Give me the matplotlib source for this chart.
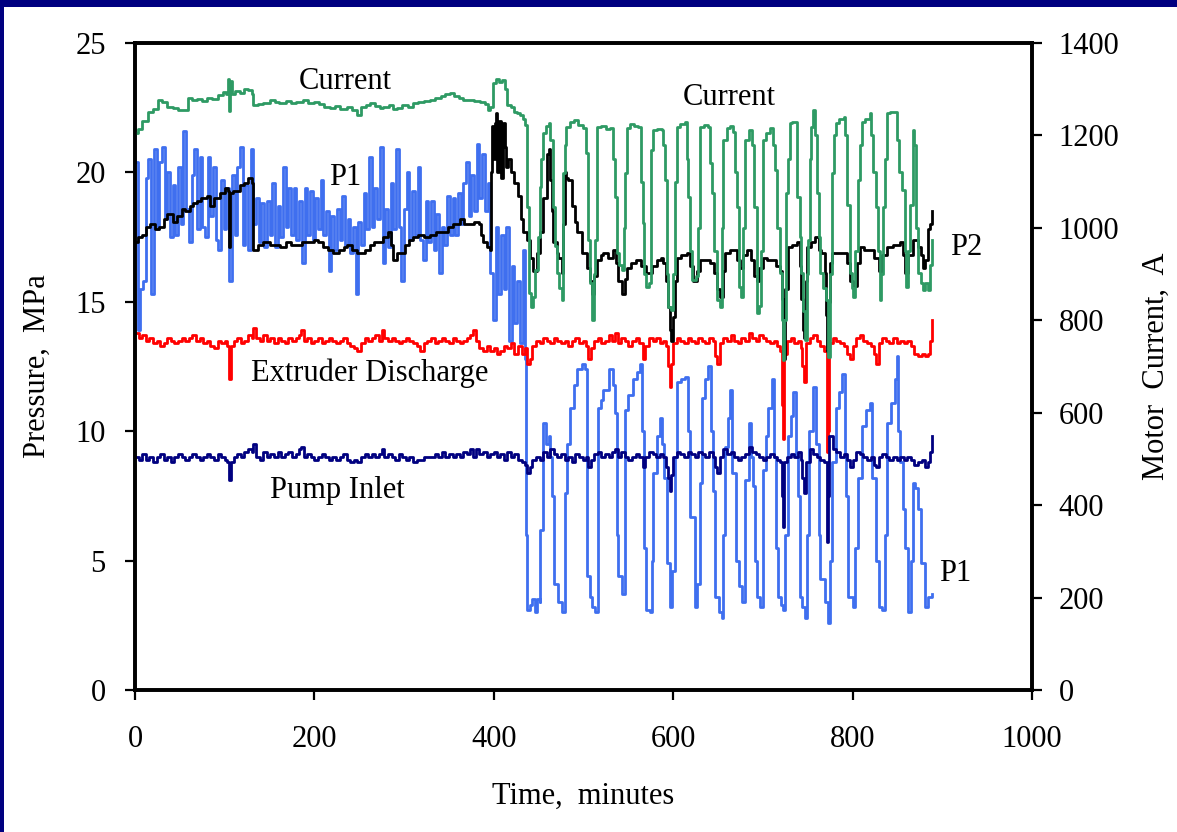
import matplotlib.pyplot as plt
from matplotlib.patches import Rectangle

plt.rcParams['font.family'] = ['Liberation Serif', 'DejaVu Serif']
plt.rcParams['font.size'] = 22

# motor current (A), right axis
cur_t = [0, 3, 8, 14, 20, 26, 30, 36, 42, 48, 54, 59, 64, 69, 75, 80, 86, 92, 98, 102,
         104, 105, 106, 108, 112, 117, 122, 126, 130, 132, 137, 143, 150, 156, 161, 168,
         174, 180, 187, 193, 199, 205, 211, 217, 223, 229, 236, 242, 247, 252, 257, 262,
         268, 273, 277, 283, 288, 292, 298, 304, 310, 316, 322, 329, 335, 341, 346, 351,
         356, 361, 366, 372, 378, 385, 390, 394, 396, 399, 402, 406, 409, 412, 415, 419,
         422, 426, 429, 432, 435, 437, 439, 442, 444, 446, 449, 451, 453, 455, 458, 461,
         463, 466, 468, 470, 473, 476, 477, 479, 481, 485, 489, 494, 500, 503, 505, 507,
         509, 512, 513, 515, 520, 525, 530, 533, 535, 537, 540, 543, 545, 546, 548, 552,
         556, 561, 564, 566, 568, 570, 573, 575, 578, 582, 587, 589, 591, 593, 594, 598,
         600, 602, 604, 608, 613, 615, 617, 619, 621, 625, 628, 630, 634, 639, 641, 643,
         646, 649, 652, 654, 656, 660, 663, 667, 669, 671, 673, 676, 678, 680, 684, 688,
         690, 693, 696, 698, 700, 704, 708, 711, 713, 716, 719, 721, 722, 724, 726, 728,
         730, 733, 736, 738, 741, 743, 745, 747, 749, 750, 752, 754, 756, 758, 760, 762,
         764, 767, 770, 773, 775, 777, 779, 781, 785, 790, 792, 794, 797, 799, 801, 803,
         806, 808, 810, 814, 819, 821, 823, 826, 828, 830, 832, 834, 836, 838, 842, 847,
         849, 852, 855, 858, 860, 862, 864, 867, 869, 871, 873, 876, 878, 881, 884, 886, 888]
cur_v = [1205, 1215, 1232, 1250, 1258, 1277, 1272, 1262, 1259, 1255, 1256, 1281, 1276, 1278,
         1274, 1282, 1279, 1288, 1294, 1290, 1322, 1252, 1318, 1290, 1296, 1292, 1300, 1298,
         1290, 1266, 1268, 1270, 1277, 1272, 1270, 1275, 1271, 1272, 1276, 1270, 1272, 1268,
         1262, 1259, 1264, 1258, 1262, 1255, 1244, 1262, 1266, 1270, 1264, 1260, 1262, 1265,
         1258, 1259, 1266, 1262, 1270, 1272, 1275, 1277, 1280, 1285, 1290, 1292, 1286, 1280,
         1277, 1276, 1274, 1272, 1268, 1255, 1262, 1314, 1322, 1316, 1320, 1300, 1266, 1262,
         1251, 1248, 1244, 1235, 1222, 1045, 859, 829, 850, 909, 980, 1088, 1150, 1205, 1220,
         1227, 1190, 1045, 960, 902, 870, 844, 1119, 1180, 1218, 1228, 1233, 1222, 1216, 1162,
         974, 880, 801, 900, 974, 1218, 1220, 1214, 1216, 1150, 1067, 946, 920, 909, 1000,
         1119, 1216, 1225, 1220, 1218, 1100, 1010, 900, 872, 880, 1169, 1212, 1214, 1212,
         1180, 1104, 900, 829, 822, 900, 1100, 1218, 1225, 1229, 1150, 1067, 950, 887, 895,
         1000, 1218, 1222, 1218, 1140, 1075, 950, 844, 829, 1000, 1190, 1216, 1220, 1208,
         1120, 1045, 872, 851, 1000, 1190, 1212, 1180, 1045, 815, 830, 950, 1190, 1205, 1216,
         1180, 1125, 1000, 902, 800, 714, 800, 1075, 1150, 1227, 1230, 1229, 1067, 980, 902,
         820, 757, 900, 974, 1150, 1218, 1255, 1200, 1075, 980, 902, 870, 844, 720, 900, 1119,
         1200, 1227, 1235, 1240, 1200, 1050, 902, 870, 851, 950, 1104, 1180, 1229, 1235, 1248,
         1200, 1120, 1045, 950, 844, 900, 1045, 1150, 1248, 1250, 1251, 1190, 1120, 1082, 950,
         872, 950, 1050, 1212, 1180, 1000, 902, 880, 866, 880, 866, 920, 974]

# P2 (MPa)
p2_t = [0, 3, 8, 12, 17, 22, 27, 32, 36, 42, 47, 52, 56, 61, 65, 69, 74, 80, 84, 88, 95, 100,
        104, 105, 106, 109, 113, 117, 121, 126, 130, 132, 137, 143, 150, 156, 162, 168, 174,
        180, 186, 193, 199, 204, 210, 215, 221, 227, 233, 236, 242, 247, 251, 256, 262, 266,
        270, 276, 282, 285, 288, 292, 296, 301, 305, 310, 316, 322, 329, 336, 343, 349, 355,
        362, 367, 373, 378, 383, 386, 388, 392, 396, 397, 398, 400, 401, 403, 404, 406, 408,
        410, 412, 414, 416, 419, 422, 427, 430, 433, 437, 440, 444, 448, 451, 455, 459, 461,
        463, 465, 466, 470, 472, 476, 477, 479, 481, 483, 487, 490, 493, 498, 504, 507, 509,
        512, 515, 519, 522, 527, 533, 536, 538, 543, 546, 548, 553, 559, 564, 570, 576, 582,
        586, 589, 592, 594, 596, 598, 600, 602, 604, 609, 615, 619, 622, 626, 630, 636, 641,
        645, 649, 652, 655, 658, 663, 667, 671, 674, 678, 682, 687, 690, 693, 696, 700, 705,
        711, 715, 719, 721, 722, 723, 725, 728, 733, 738, 741, 743, 745, 746, 748, 749, 754,
        758, 762, 765, 769, 770, 771, 773, 775, 777, 783, 790, 794, 797, 801, 805, 808, 813,
        819, 824, 829, 833, 838, 845, 853, 856, 858, 862, 867, 873, 876, 878, 881, 884, 886, 888]
p2_v = [17.3, 17.5, 17.6, 17.9, 18.0, 17.8, 17.9, 18.2, 18.4, 18.1, 18.3, 18.6, 18.5, 18.7,
        18.8, 18.9, 19.0, 19.1, 18.7, 19.0, 19.2, 19.4, 19.3, 17.1, 19.2, 19.3, 19.3, 19.5,
        19.6, 19.8, 19.6, 17.0, 17.2, 17.3, 17.2, 17.2, 17.1, 17.3, 17.2, 17.2, 17.3, 17.3,
        17.4, 17.3, 17.1, 17.0, 16.9, 17.0, 17.1, 17.2, 17.0, 16.9, 16.9, 17.0, 17.2, 17.3,
        17.3, 17.5, 17.7, 17.2, 16.6, 16.9, 16.9, 17.2, 17.4, 17.5, 17.6, 17.5, 17.6, 17.7,
        17.7, 17.9, 18.0, 18.2, 18.0, 18.0, 18.1, 18.0, 17.6, 17.3, 17.1, 17.0, 20.0, 21.8,
        20.5, 21.9, 22.3, 20.0, 22.0, 19.8, 21.9, 21.0, 20.2, 20.5, 20.0, 19.6, 19.1, 18.2,
        17.7, 17.4, 16.7, 16.2, 16.9, 17.7, 19.0, 20.7, 20.9, 19.7, 18.5, 17.3, 16.9, 16.7,
        16.1, 18.0, 20.0, 19.8, 19.7, 18.7, 18.1, 17.7, 16.9, 16.3, 15.8, 15.3, 16.0, 16.6,
        16.8, 16.9, 16.7, 17.0, 16.5, 15.8, 15.3, 15.9, 16.3, 16.5, 16.6, 16.4, 16.1, 16.4,
        16.6, 16.7, 16.5, 15.8, 14.8, 13.9, 13.5, 14.4, 15.8, 16.7, 16.8, 16.9, 16.4, 15.8,
        16.2, 16.6, 16.6, 16.5, 16.1, 15.5, 15.2, 16.2, 16.9, 17.0, 17.0, 16.6, 16.3, 16.8,
        17.0, 16.6, 16.0, 15.8, 16.3, 16.7, 16.6, 16.6, 16.4, 16.2, 15.1, 13.0, 12.8, 15.5,
        17.1, 17.2, 17.3, 16.4, 15.1, 13.9, 13.6, 15.8, 17.1, 17.3, 17.5, 17.0, 16.9, 16.1,
        14.5, 13.1, 15.0, 16.5, 16.9, 16.9, 16.9, 16.5, 15.8, 15.6, 16.5, 17.1, 17.0, 17.0,
        16.7, 16.2, 16.8, 17.1, 17.2, 17.3, 16.8, 16.1, 16.8, 17.4, 17.1, 16.8, 16.3, 16.6,
        17.8, 18.0, 18.5]

# P1 (MPa)
p1_t = [0, 3, 6, 9, 12, 15, 18, 21, 24, 27, 30, 33, 36, 39, 42, 45, 48, 51, 54, 57, 60, 63,
        66, 69, 72, 75, 78, 81, 84, 87, 90, 93, 96, 99, 102, 105, 108, 111, 114, 117, 120,
        123, 126, 129, 132, 135, 138, 141, 144, 147, 150, 153, 156, 159, 162, 165, 168, 171,
        174, 177, 180, 183, 186, 189, 192, 195, 198, 201, 204, 207, 210, 213, 216, 219, 222,
        225, 228, 231, 234, 237, 240, 243, 246, 249, 252, 255, 258, 261, 264, 267, 270, 273,
        276, 279, 282, 285, 288, 291, 294, 297, 300, 303, 306, 309, 312, 315, 318, 321, 324,
        327, 330, 333, 336, 339, 342, 345, 348, 351, 354, 357, 360, 363, 366, 369, 372, 375,
        378, 381, 384, 387, 390, 393, 396, 399, 402, 405, 408, 411, 414, 417, 420, 423, 426,
        429, 432, 435,
        436, 437, 440, 443, 446, 448, 451, 452, 455, 458, 461, 463, 465,
        467, 472, 476, 479, 482, 485, 489, 493, 498, 502, 504, 507, 510, 513, 516, 519, 522,
        528, 533, 535, 537, 539, 543, 546, 550, 555, 560, 563, 565, 567, 570, 574, 576, 578,
        582, 585, 588, 590, 593, 596, 599, 602, 604, 609, 613, 616, 619, 624, 627, 630, 632,
        636, 639, 642, 644, 647, 651, 654, 656, 658, 661, 663, 666, 670, 673, 677, 680, 684,
        687, 689, 691, 693, 697, 700, 703, 706, 710, 712, 715, 717, 720, 722, 725, 728, 731,
        734, 737, 739, 741, 744, 747, 749, 751, 756, 759, 762, 764, 769, 773, 775, 777, 782,
        785, 788, 791, 793, 795, 800, 803, 806, 810, 815, 819, 822, 826, 829, 833, 836, 838,
        843, 847, 849, 851, 853, 856, 858, 862, 865, 867, 870, 873, 876, 881, 884, 888]
p1_v = [20.4, 13.9, 15.5, 15.8, 19.8, 20.5, 15.3, 20.9, 17.8, 20.4, 21.0, 18.2, 20.0, 17.5,
        19.5, 17.6, 20.2, 18.0, 21.6, 18.6, 17.3, 19.9, 20.9, 17.8, 20.6, 17.9, 17.5, 20.6,
        18.3, 20.2, 17.4, 17.0, 19.7, 17.8, 19.4, 15.8, 19.9, 17.6, 20.2, 21.0, 17.2, 19.5,
        17.0, 20.9, 18.0, 19.0, 17.3, 18.8, 17.1, 18.9, 17.6, 19.6, 17.1, 18.7, 17.5, 20.2,
        17.9, 19.4, 17.6, 19.4, 17.4, 18.9, 16.5, 19.4, 17.6, 19.3, 17.4, 19.0, 17.8, 19.7,
        17.6, 18.5, 16.2, 18.3, 17.0, 18.6, 17.4, 19.1, 17.2, 18.2, 16.9, 17.9, 15.3, 18.1,
        17.2, 19.2, 17.8, 20.6, 17.9, 19.4, 18.2, 21.0, 16.5, 18.6, 17.1, 19.6, 17.8, 20.9,
        17.9, 15.8, 18.6, 20.0, 17.4, 19.3, 17.6, 20.2, 17.4, 16.6, 18.9, 17.3, 18.9, 17.0,
        18.4, 16.1, 17.9, 17.2, 19.1, 17.6, 19.0, 17.6, 19.2, 18.0, 19.6, 20.4, 18.3, 19.9,
        18.5, 21.1, 19.0, 20.7, 18.5, 19.6, 16.1, 14.3, 17.9, 15.3, 17.6, 15.5, 17.9, 13.5,
        16.4, 14.2, 15.8, 13.4, 17.0, 12.8,
        6.0, 3.1, 3.3, 3.5, 3.0, 3.5, 3.4, 6.2, 10.3, 9.5, 9.8, 9.0, 7.5,
        4.1, 3.4, 3.0, 7.6, 9.5, 10.9, 11.8, 12.4, 12.6, 12.4, 4.4, 3.6, 3.2, 3.0, 10.9, 11.2,
        11.6, 12.4, 11.8, 10.7, 6.0, 4.4, 3.7, 10.8, 11.4, 12.0, 12.3, 12.6, 10.0, 5.5, 3.1,
        3.0, 5.0, 8.4, 9.8, 10.5, 9.5, 8.2, 4.9, 3.2, 4.6, 9.0, 11.9, 12.0, 12.1, 10.0, 6.7,
        3.2, 4.1, 8.0, 11.3, 12.0, 12.5, 10.0, 7.7, 3.6, 3.0, 2.8, 6.0, 9.4, 10.5, 11.6, 8.4,
        5.0, 4.0, 3.4, 8.1, 10.3, 9.0, 7.9, 5.0, 3.6, 3.2, 8.5, 9.8, 10.9, 12.0, 9.0, 5.5,
        3.6, 3.3, 3.1, 6.0, 9.8, 10.6, 11.5, 9.0, 7.5, 3.6, 3.2, 2.8, 6.0, 10.0, 11.7, 9.5,
        6.0, 4.3, 3.4, 2.6, 5.0, 8.8, 10.9, 11.5, 12.2, 9.0, 7.5, 3.6, 3.2, 5.5, 8.2, 10.2,
        10.8, 11.1, 8.2, 5.0, 3.2, 3.1, 6.0, 10.3, 11.1, 12.0, 12.9, 10.0, 8.8, 7.0, 5.5, 3.0,
        5.0, 8.0, 7.8, 7.0, 4.9, 3.2, 3.6, 3.7]

# extruder discharge (MPa)
ed_t = [0, 4, 8, 12, 16, 20, 24, 28, 32, 36, 40, 44, 48, 52, 56, 60, 64, 68, 72, 76, 80, 84,
        88, 92, 96, 100, 103, 105, 107, 110, 114, 118, 122, 126, 130, 132, 135, 139, 143,
        147, 151, 155, 159, 163, 167, 171, 175, 179, 183, 185, 188, 192, 196, 200, 204, 208,
        212, 216, 220, 224, 228, 232, 236, 240, 244, 248, 252, 256, 260, 264, 268, 272, 275,
        278, 282, 286, 290, 294, 298, 302, 306, 310, 314, 318, 322, 326, 330, 334, 338, 342,
        346, 350, 354, 358, 362, 366, 370, 374, 377, 380, 384, 388, 392, 396, 400, 404, 407,
        411, 415, 419, 423, 427, 431, 435, 437, 440, 443, 447, 451, 455, 459, 463, 467, 471,
        475, 479, 483, 487, 491, 495, 499, 503, 505, 508, 512, 516, 520, 524, 528, 532, 535,
        538, 542, 546, 550, 554, 558, 562, 566, 569, 573, 577, 581, 585, 589, 592, 594, 596,
        598, 600, 604, 608, 612, 616, 620, 624, 628, 632, 636, 640, 644, 647, 649, 652, 656,
        660, 664, 668, 672, 676, 680, 684, 688, 692, 696, 700, 704, 708, 712, 716, 719, 721,
        722, 723, 724, 727, 731, 735, 739, 742, 744, 746, 748, 752, 756, 760, 764, 768, 771,
        772, 773, 774, 778, 782, 786, 790, 794, 797, 800, 804, 808, 812, 816, 820, 824, 826,
        829, 833, 837, 841, 845, 849, 853, 857, 861, 865, 869, 873, 877, 881, 884, 886, 888]
ed_v = [13.8, 13.6, 13.7, 13.5, 13.6, 13.4, 13.5, 13.3, 13.4, 13.6, 13.5, 13.4, 13.5, 13.6,
        13.5, 13.6, 13.7, 13.5, 13.6, 13.4, 13.5, 13.3, 13.2, 13.5, 13.4, 13.5, 13.3, 12.0,
        13.3, 13.5, 13.6, 13.4, 13.5, 13.7, 13.6, 14.0, 13.6, 13.5, 13.7, 13.5, 13.6, 13.4,
        13.6, 13.5, 13.4, 13.6, 13.5, 13.6, 13.7, 13.9, 13.5, 13.6, 13.4, 13.5, 13.6, 13.4,
        13.5, 13.6, 13.5, 13.4, 13.5, 13.6, 13.4, 13.3, 13.2, 13.1, 13.4, 13.6, 13.5, 13.6,
        13.7, 13.5, 13.9, 13.6, 13.5, 13.6, 13.5, 13.4, 13.5, 13.6, 13.5, 13.4, 13.3, 13.1,
        13.4, 13.5, 13.6, 13.4, 13.5, 13.6, 13.5, 13.4, 13.6, 13.5, 13.4, 13.5, 13.6, 13.7,
        13.9, 13.5, 13.2, 13.1, 13.3, 13.1, 13.2, 13.0, 13.1, 13.3, 13.2, 13.4, 13.0, 13.3,
        13.0, 13.2, 12.6, 12.8, 13.3, 13.5, 13.4, 13.6, 13.5, 13.4, 13.6, 13.5, 13.4, 13.5,
        13.3, 13.5, 13.6, 13.4, 13.5, 13.3, 12.8, 13.2, 13.5, 13.6, 13.4, 13.5, 13.7, 13.5,
        13.8, 13.4, 13.6, 13.5, 13.3, 13.5, 13.6, 13.4, 12.8, 13.3, 13.6, 13.5, 13.6, 13.4,
        13.5, 13.3, 12.5, 11.7, 12.6, 13.4, 13.6, 13.5, 13.4, 13.6, 13.5, 13.4, 13.6, 13.5,
        13.4, 13.6, 13.5, 12.9, 12.6, 13.4, 13.6, 13.5, 13.7, 13.5, 13.4, 13.6, 13.5, 13.8,
        13.6, 13.5, 13.7, 13.6, 13.5, 13.4, 13.5, 13.3, 13.1, 11.0, 9.7, 10.5, 13.0, 13.5,
        13.6, 13.4, 13.5, 13.2, 12.5, 11.9, 13.4, 13.6, 13.7, 13.5, 13.3, 13.1, 11.0, 9.2,
        10.0, 13.4, 13.6, 13.5, 13.4, 13.3, 13.0, 12.8, 13.3, 13.6, 13.7, 13.5, 13.4, 13.3,
        13.0, 12.6, 13.4, 13.6, 13.5, 13.4, 13.6, 13.4, 13.5, 13.4, 13.5, 13.3, 13.0, 12.9,
        13.0, 12.9, 13.0, 13.5, 14.3]

# pump inlet (MPa), same sample times as the extruder discharge
pi_t = ed_t
pi_v = [9.0, 8.9, 9.1, 8.9, 9.0, 8.8, 9.0, 9.1, 8.9, 9.0, 8.8, 9.0, 9.1, 9.0, 8.9, 9.0, 9.1,
        9.0, 8.9, 9.0, 9.1, 9.0, 8.9, 9.1, 9.0, 8.9, 8.8, 8.1, 8.8, 9.0, 9.1, 9.0, 9.2, 9.3,
        9.2, 9.5, 9.0, 8.9, 9.2, 9.0, 9.1, 9.0, 9.2, 9.0, 9.1, 9.2, 9.0, 9.1, 9.3, 9.4, 9.0,
        9.1, 9.0, 8.9, 9.0, 9.1, 9.0, 8.9, 9.0, 8.9, 9.0, 9.1, 8.9, 8.8, 8.9, 8.8, 9.0, 9.1,
        9.0, 9.1, 9.0, 9.1, 9.3, 9.0, 9.1, 9.0, 8.9, 9.1, 9.0, 8.9, 9.0, 8.8, 8.9, 8.9, 9.0,
        9.0, 9.0, 9.1, 9.0, 9.2, 9.0, 9.1, 9.0, 9.1, 9.0, 9.2, 9.1, 9.3, 9.0, 9.3, 9.1, 9.2,
        9.0, 9.1, 9.2, 9.0, 9.1, 8.9, 9.2, 9.0, 9.1, 8.9, 8.8, 8.7, 8.4, 8.6, 8.9, 9.0, 8.9,
        9.2, 9.0, 9.3, 9.1, 9.0, 9.1, 8.9, 9.0, 8.8, 9.1, 9.0, 8.9, 9.0, 8.6, 8.9, 9.1, 9.2,
        9.0, 9.1, 9.0, 9.2, 9.3, 9.0, 9.2, 9.0, 8.9, 9.0, 9.1, 9.0, 8.6, 9.0, 9.2, 9.1, 9.0,
        9.1, 9.0, 8.6, 8.2, 7.7, 8.3, 9.0, 9.2, 9.1, 9.0, 9.2, 9.1, 9.0, 9.2, 9.1, 9.0, 9.2,
        9.0, 8.6, 8.4, 9.0, 9.3, 9.1, 9.2, 9.0, 8.9, 9.0, 9.1, 9.4, 9.2, 9.1, 9.0, 8.9, 9.0,
        9.1, 9.0, 8.9, 8.8, 7.5, 6.3, 7.0, 8.8, 9.0, 9.1, 9.0, 9.2, 8.9, 8.2, 7.6, 8.8, 9.3,
        9.1, 9.0, 8.9, 8.8, 7.0, 5.7, 7.5, 9.8, 9.3, 9.2, 9.0, 9.1, 8.9, 8.6, 8.9, 9.2, 9.1,
        9.0, 8.9, 9.0, 8.7, 8.6, 9.0, 9.1, 9.0, 8.9, 9.0, 8.9, 9.0, 8.9, 9.0, 8.9, 8.7, 8.8,
        8.9, 8.6, 8.8, 9.2, 9.8]

fig, ax = plt.subplots(figsize=(11.77, 8.32), dpi=100)
fig.subplots_adjust(left=0.1147, right=0.8768, bottom=0.1707, top=0.9483)
fig.patch.set_facecolor('white')

# slide frame: only the top and left edges show in the crop
fig.add_artist(Rectangle((0, 1 - 7 / 832), 1, 7 / 832, transform=fig.transFigure,
                         facecolor='#000080', lw=0, zorder=0))
fig.add_artist(Rectangle((0, 0), 4 / 1177, 1, transform=fig.transFigure,
                         facecolor='#000080', lw=0, zorder=0))
fig.add_artist(Rectangle((1 - 5 / 1177, 0), 5 / 1177, 1 - 7 / 832, transform=fig.transFigure,
                         facecolor='white', lw=0, zorder=0))

ax.plot(p1_t, p1_v, color='#3F6FEF', lw=2.0, drawstyle='steps-post')
ax.plot(ed_t, ed_v, color='#FF0000', lw=2.0, drawstyle='steps-post')
ax.plot(pi_t, pi_v, color='#000080', lw=2.0, drawstyle='steps-post')
ax.plot(p2_t, p2_v, color='black', lw=2.0, drawstyle='steps-post')

ax2 = ax.twinx()
ax2.plot(cur_t, cur_v, color='#2E9A64', lw=2.0, drawstyle='steps-post')

ax.set_xlim(0, 1000)
ax.set_ylim(0, 25)
ax2.set_ylim(0, 1400)
ax.set_xticks(range(0, 1001, 200))
ax.set_yticks(range(0, 26, 5))
ax2.set_yticks(range(0, 1401, 200))

for a in (ax, ax2):
    for s in a.spines.values():
        s.set_linewidth(2.6)
    a.tick_params(direction='out', length=7, width=1.6, labelsize=22)
ax.tick_params(axis='y', pad=14)
ax.tick_params(axis='x', pad=18)
ax2.tick_params(axis='y', pad=12)

ax.set_xlabel('Time,  minutes', fontsize=22, labelpad=20)
ax.set_ylabel('Pressure,  MPa', fontsize=22, labelpad=17)
ax2.set_ylabel('Motor  Current,  A', fontsize=22, labelpad=16)

ax.text(234, 23.5, 'Current', ha='center', va='center', fontsize=22)
ax.text(663, 22.9, 'Current', ha='center', va='center', fontsize=22)
ax.text(234, 19.8, 'P1', ha='center', va='center', fontsize=22)
ax.text(927, 17.1, 'P2', ha='center', va='center', fontsize=22)
ax.text(262, 12.25, 'Extruder Discharge', ha='center', va='center', fontsize=22)
ax.text(225, 7.7, 'Pump Inlet', ha='center', va='center', fontsize=22)
ax.text(914, 4.5, 'P1', ha='center', va='center', fontsize=22)

plt.savefig('out.png', dpi=100, facecolor='white')
